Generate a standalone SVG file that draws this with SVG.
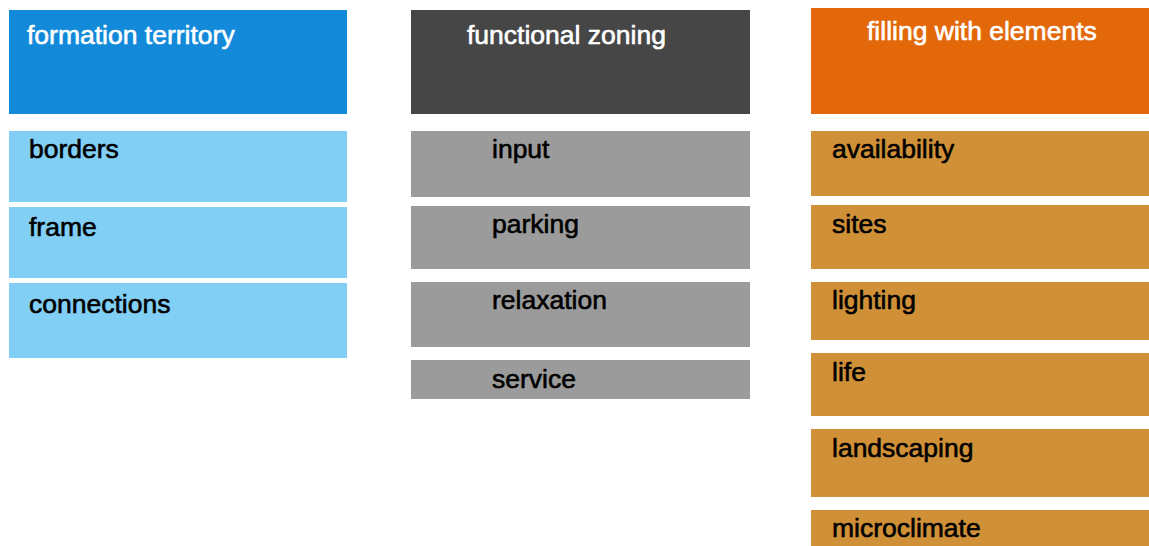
<svg xmlns="http://www.w3.org/2000/svg" width="1149" height="546" viewBox="0 0 1149 546">
  <style>
    text { font-family: "Liberation Sans", Arial, Helvetica, sans-serif; font-size: 26.5px; stroke-width: 0.6px; stroke-linejoin: round; }
    .head { fill: #ffffff; stroke: #ffffff; }
    .item { fill: #000000; stroke: #000000; }
    .blue-head { fill: #138ad9; }
    .blue { fill: #82cff5; }
    .gray-head { fill: #464646; }
    .gray { fill: #9b9b9b; }
    .orange-head { fill: #e2680a; }
    .orange { fill: #d09038; }
  </style>
  <rect width="1149" height="546" fill="#ffffff"/>

  <!-- column 1: formation territory -->
  <g id="formation-territory">
    <rect class="blue-head" x="9" y="10" width="338" height="104"/>
    <text class="head" x="27" y="44">formation territory</text>
  </g>
  <g id="borders">
    <rect class="blue" x="9" y="131" width="338" height="71"/>
    <text class="item" x="29" y="158">borders</text>
  </g>
  <g id="frame">
    <rect class="blue" x="9" y="207" width="338" height="71"/>
    <text class="item" x="29" y="236">frame</text>
  </g>
  <g id="connections">
    <rect class="blue" x="9" y="283" width="338" height="75"/>
    <text class="item" x="29" y="313">connections</text>
  </g>

  <!-- column 2: functional zoning -->
  <g id="functional-zoning">
    <rect class="gray-head" x="411" y="10" width="339" height="104"/>
    <text class="head" x="467" y="44">functional zoning</text>
  </g>
  <g id="input">
    <rect class="gray" x="411" y="131" width="339" height="66"/>
    <text class="item" x="492" y="158">input</text>
  </g>
  <g id="parking">
    <rect class="gray" x="411" y="206" width="339" height="63"/>
    <text class="item" x="492" y="233">parking</text>
  </g>
  <g id="relaxation">
    <rect class="gray" x="411" y="282" width="339" height="65"/>
    <text class="item" x="492" y="309">relaxation</text>
  </g>
  <g id="service">
    <rect class="gray" x="411" y="360" width="339" height="39"/>
    <text class="item" x="492" y="388">service</text>
  </g>

  <!-- column 3: filling with elements -->
  <g id="filling-with-elements">
    <rect class="orange-head" x="811" y="8" width="338" height="106"/>
    <text class="head" x="867" y="40">filling with elements</text>
  </g>
  <g id="availability">
    <rect class="orange" x="811" y="131" width="338" height="65"/>
    <text class="item" x="832" y="158">availability</text>
  </g>
  <g id="sites">
    <rect class="orange" x="811" y="205" width="338" height="64"/>
    <text class="item" x="832" y="233">sites</text>
  </g>
  <g id="lighting">
    <rect class="orange" x="811" y="282" width="338" height="58"/>
    <text class="item" x="832" y="309">lighting</text>
  </g>
  <g id="life">
    <rect class="orange" x="811" y="353" width="338" height="63"/>
    <text class="item" x="832" y="381">life</text>
  </g>
  <g id="landscaping">
    <rect class="orange" x="811" y="429" width="338" height="68"/>
    <text class="item" x="832" y="457">landscaping</text>
  </g>
  <g id="microclimate">
    <rect class="orange" x="811" y="510" width="338" height="36"/>
    <text class="item" x="832" y="537">microclimate</text>
  </g>

  <!-- no connectors between the blocks -->
  <g id="connectors"/>
</svg>
